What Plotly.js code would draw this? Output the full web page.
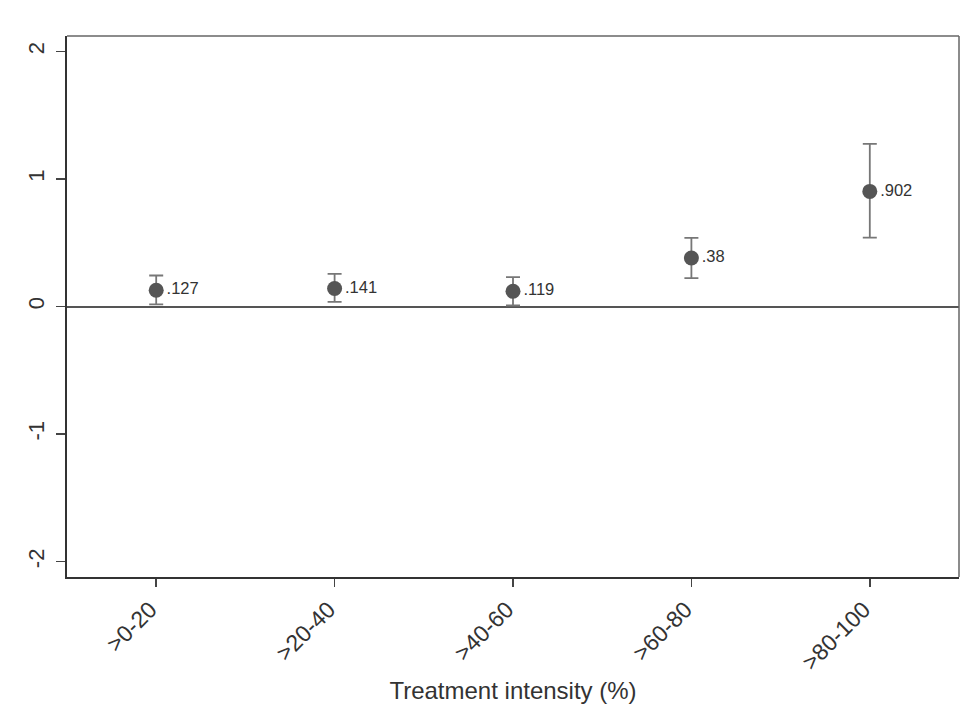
<!DOCTYPE html>
<html>
<head>
<meta charset="utf-8">
<script src="https://cdn.plot.ly/plotly-3.0.1.min.js"></script>
<style>html,body{margin:0;padding:0;background:#fff;}#chart{width:961px;height:722px;}</style>
</head>
<body>
<div id="chart"></div>
<script>
const categories = [">0-20", ">20-40", ">40-60", ">60-80", ">80-100"];
const estimates = [0.127, 0.141, 0.119, 0.38, 0.902];
const ciLower = [0.016, 0.037, 0.008, 0.222, 0.54];
const ciUpper = [0.243, 0.256, 0.230, 0.538, 1.274];
const pointLabels = [".127", ".141", ".119", ".38", ".902"];
const yTickValues = [-2, -1, 0, 1, 2];
const yTickLabels = ["-2", "-1", "0", "1", "2"];

const xIdx = categories.map((c, i) => i);

const trace = {
  type: "scatter",
  mode: "markers+text",
  x: xIdx,
  y: estimates,
  text: pointLabels,
  textposition: "middle right",
  textfont: {family: "Liberation Sans, Arial, sans-serif", size: 16.5, color: "#333"},
  marker: {size: 15, color: "#555555"},
  error_y: {
    type: "data",
    symmetric: false,
    array: estimates.map((v, i) => ciUpper[i] - v),
    arrayminus: estimates.map((v, i) => v - ciLower[i]),
    color: "#777777",
    thickness: 1.8,
    width: 7
  },
  cliponaxis: false,
  hoverinfo: "skip"
};

const layout = {
  width: 961, height: 722,
  margin: {l: 67, r: 2, t: 36, b: 145},
  paper_bgcolor: "#ffffff",
  plot_bgcolor: "#ffffff",
  showlegend: false,
  font: {family: "Liberation Sans, Arial, sans-serif", color: "#333"},
  xaxis: {
    range: [-0.5, 4.5],
    tickvals: xIdx,
    ticktext: categories,
    tickangle: -45,
    ticks: "outside", ticklen: 8, tickwidth: 1.5, tickcolor: "#444",
    tickfont: {size: 23, color: "#333"},
    ticklabelshift: -6,
    showgrid: false, zeroline: false,
    showline: true, linecolor: "#333", linewidth: 2,
    title: {text: "Treatment intensity (%)", font: {size: 24, color: "#333"}, standoff: 8}
  },
  yaxis: {
    range: [-2.12, 2.12],
    tickvals: yTickValues,
    ticktext: yTickLabels,
    tickangle: -90,
    ticks: "outside", ticklen: 9, tickwidth: 1.5, tickcolor: "#444",
    tickfont: {size: 22, color: "#333"},
    ticklabelstandoff: 3,
    showgrid: false,
    zeroline: true, zerolinecolor: "#555", zerolinewidth: 2,
    showline: true, linecolor: "#333", linewidth: 2
  },
  shapes: [
    {type: "line", xref: "paper", yref: "paper", x0: 0, x1: 1, y0: 1, y1: 1, line: {color: "#666", width: 1.5}},
    {type: "line", xref: "paper", yref: "paper", x0: 1, x1: 1, y0: 0, y1: 1, line: {color: "#666", width: 1.5}}
  ]
};

Plotly.newPlot("chart", [trace], layout, {displayModeBar: false, staticPlot: true});
</script>
</body>
</html>
